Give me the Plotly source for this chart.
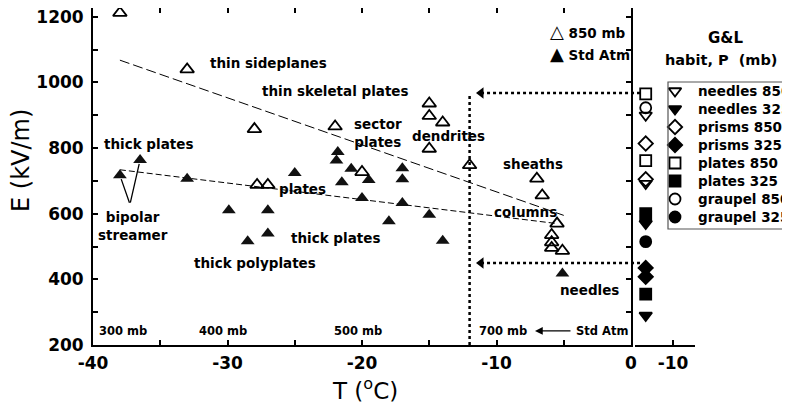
import plotly.graph_objects as go

# figure size (the page adds an 8 px body margin on the top and left)
W, H = 782, 397
OX, OY = 8, 8

# ---------------- data ----------------
# 850 mb runs (open triangles)
t850 = [-38.0, -33.0, -28.0, -22.0, -27.8, -27.0, -20.0, -15.0, -15.0, -14.0, -15.0, -12.0,
        -7.0, -6.6, -5.5, -5.9, -5.9, -5.9, -5.1]
e850 = [1212, 1040, 858, 866, 688, 688, 727, 936, 898, 878, 798, 748,
        707, 656, 570, 535, 513, 496, 487]

# Standard atmosphere runs (filled triangles)
tstd = [-38.0, -36.5, -33.0, -29.9, -27.0, -27.0, -28.5, -25.0, -21.8, -21.9, -20.8, -21.5,
        -19.5, -20.0, -17.0, -17.0, -17.0, -18.0, -15.0, -14.0, -5.1]
estd = [717, 764, 707, 611, 611, 540, 516, 724, 788, 762, 737, 696,
        703, 648, 739, 705, 633, 577, 597, 518, 418]

# dashed fits
fit850_t = [-38.0, -5.0]
fit850_e = [1068, 595]
fitstd_t = [-38.0, -5.5]
fitstd_e = [734, 570]

# G&L habits (right panel)
gl_labels = ["needles 850", "needles 325", "prisms 850", "prisms 325",
             "plates 850", "plates 325", "graupel 850", "graupel 325"]
gl_symbols = ["triangle-down-open", "triangle-down", "diamond-open", "diamond",
              "square-open", "square", "circle-open", "circle"]
gl_values = [[900, 692], [570, 290], [814, 705], [435, 408],
             [965, 762], [600, 355], [923], [515]]
gl_x = -3.5

# threshold guides
thresh_t = -12.0
upper_e = 968
lower_e = 450
arrow_head_t = -11.15

# habit labels: (text, T, E, anchor)
habit_labels = [
    ("thin sideplanes", -31.45, 1060, "left"),
    ("thin skeletal plates", -27.58, 975, "left"),
    ("sector<br>plates", -18.8, 846, "center"),
    ("dendrites", -13.6, 838, "center"),
    ("sheaths", -7.29, 753, "center"),
    ("columns", -7.88, 604, "center"),
    ("needles", -3.05, 367, "center"),
    ("thick plates", -35.84, 814, "center"),
    ("bipolar<br>streamer", -37.0, 562, "center"),
    ("plates", -24.39, 674, "center"),
    ("thick plates", -22.0, 525, "center"),
    ("thick polyplates", -27.96, 449, "center"),
]

# pressure levels of the standard atmosphere
p_labels = ["300 mb", "400 mb", "500 mb", "700 mb"]
p_temps = [-37.8, -30.3, -20.3, -9.5]
p_e = 243

x_ticks = [-40, -35, -30, -25, -20, -15, -10, -5, 0]
x_ticktext = ["-40", "", "-30", "", "-20", "", "-10", "", "0"]
y_ticks = [200, 300, 400, 500, 600, 700, 800, 900, 1000, 1100, 1200]
y_ticktext = ["200", "", "400", "", "600", "", "800", "", "1000", "", "1200"]


# ---------------- layout geometry (screen pixels -> paper) ----------------
def px(x):
    return (x - OX) / W


def py(y):
    return 1 - (y - OY) / H


XD = [px(93), px(631)]
YD = [py(345), py(8)]
XR = [-40, 0]
YR = [200, 1227]
X2D = [px(635), px(695)]
X2R = [-0.95, -15.24]


def xpaper(t):
    return XD[0] + (t - XR[0]) / (XR[1] - XR[0]) * (XD[1] - XD[0])


LBL = dict(family="DejaVu Sans", size=13.5, color="black", weight="bold")
TICKF = dict(family="DejaVu Sans", size=17, color="black", weight="bold")

fig = go.Figure()

# fits
fig.add_trace(go.Scatter(x=fit850_t, y=fit850_e, mode="lines",
                         line=dict(color="black", width=1, dash="10px,4px"),
                         showlegend=False, hoverinfo="skip"))
fig.add_trace(go.Scatter(x=fitstd_t, y=fitstd_e, mode="lines",
                         line=dict(color="black", width=1, dash="6px,3px"),
                         showlegend=False, hoverinfo="skip"))

# points
fig.add_trace(go.Scatter(x=tstd, y=estd, mode="markers", name="Std Atm",
                         marker=dict(symbol="triangle-up", size=12, color="#111"),
                         showlegend=False, cliponaxis=False))
fig.add_trace(go.Scatter(x=t850, y=e850, mode="markers", name="850 mb",
                         marker=dict(symbol="triangle-up-open", size=12, color="black",
                                     line=dict(width=1.8, color="black")),
                         showlegend=False, cliponaxis=False))

# arrowheads of the dotted guides
fig.add_trace(go.Scatter(x=[arrow_head_t, arrow_head_t], y=[upper_e, lower_e], mode="markers",
                         marker=dict(symbol="triangle-left", size=10, color="black"),
                         showlegend=False, hoverinfo="skip"))

# right panel (G&L)
for lab, sym, vals in zip(gl_labels, gl_symbols, gl_values):
    fig.add_trace(go.Scatter(x=[gl_x] * len(vals), y=vals, mode="markers", name=lab,
                             xaxis="x2", yaxis="y2",
                             marker=dict(symbol=sym, size=11, color="black",
                                         line=dict(width=1.8, color="black")),
                             showlegend=False, cliponaxis=False))

# manual legend for G&L habits
idx = list(range(len(gl_labels)))
fig.add_trace(go.Scatter(x=[7] * len(idx), y=idx, mode="markers", xaxis="x3", yaxis="y3",
                         marker=dict(symbol=gl_symbols, size=11, color="black",
                                     line=dict(width=1.8, color="black")),
                         showlegend=False, hoverinfo="skip", cliponaxis=False))

annotations = []
for i, lab in enumerate(gl_labels):
    annotations.append(dict(x=28, y=i, xref="x3", yref="y3", text=lab, showarrow=False,
                            xanchor="left", yanchor="middle", font=LBL))
annotations.append(dict(x=px(725), y=py(38), xref="paper", yref="paper", text="G&amp;L",
                        showarrow=False, xanchor="center", yanchor="middle",
                        font=dict(family="DejaVu Sans", size=15, weight="bold", color="black")))
annotations.append(dict(x=px(721), y=py(60), xref="paper", yref="paper",
                        text="habit, P&nbsp;&nbsp;(mb)", showarrow=False,
                        xanchor="center", yanchor="middle",
                        font=dict(family="DejaVu Sans", size=14.5, weight="bold", color="black")))

for txt, t, e, anc in habit_labels:
    annotations.append(dict(x=t, y=e, xref="x", yref="y", text=txt, showarrow=False,
                            xanchor=anc, yanchor="middle", font=LBL, align="center"))

PF = dict(family="DejaVu Sans", size=11.5, weight="bold", color="black")
for txt, t in zip(p_labels, p_temps):
    annotations.append(dict(x=t, y=p_e, xref="x", yref="y", text=txt, showarrow=False,
                            xanchor="center", yanchor="middle", font=PF))
annotations.append(dict(x=-2.16, y=p_e, xref="x", yref="y", text="Std Atm", showarrow=False,
                        xanchor="center", yanchor="middle", font=PF))
annotations.append(dict(x=-7.14, y=p_e, xref="x", yref="y", text="", showarrow=True,
                        ax=37, ay=0, arrowhead=2, arrowsize=1.3, arrowwidth=1.2, arrowcolor="black"))

# bipolar streamer pointers
annotations.append(dict(x=tstd[0], y=estd[0], xref="x", yref="y", text="", showarrow=True,
                        axref="x", ayref="y", ax=-37.25, ay=629, arrowhead=0, arrowwidth=1.3,
                        standoff=4, arrowcolor="black"))
annotations.append(dict(x=tstd[1], y=estd[1], xref="x", yref="y", text="", showarrow=True,
                        axref="x", ayref="y", ax=-37.25, ay=629, arrowhead=0, arrowwidth=1.3,
                        standoff=4, arrowcolor="black"))

# key for triangles
annotations.append(dict(x=px(548), y=py(31), xref="paper", yref="paper",
                        text='<span style="font-size:18px">\u25b3</span> 850 mb',
                        showarrow=False, xanchor="left", yanchor="middle", font=LBL))
annotations.append(dict(x=px(548), y=py(54), xref="paper", yref="paper",
                        text='<span style="font-size:18px">\u25b2</span> Std Atm',
                        showarrow=False, xanchor="left", yanchor="middle", font=LBL))

# axis titles
annotations.append(dict(x=px(21), y=py(161), xref="paper", yref="paper", text="E (kV/m)",
                        textangle=-90, showarrow=False, xanchor="center", yanchor="middle",
                        font=dict(family="DejaVu Sans", size=24, color="black")))
annotations.append(dict(x=px(365), y=py(389), xref="paper", yref="paper", text="T (<sup>o</sup>C)",
                        showarrow=False, xanchor="center", yanchor="middle",
                        font=dict(family="DejaVu Sans", size=23, color="black")))

DOT = dict(color="black", width=2.5, dash="3px,3px")
shapes = [
    dict(type="line", xref="x", yref="y", x0=thresh_t, x1=thresh_t, y0=YR[0], y1=upper_e, line=DOT),
    dict(type="line", xref="paper", yref="y", x0=xpaper(arrow_head_t), x1=px(643),
         y0=upper_e, y1=upper_e, line=DOT),
    dict(type="line", xref="paper", yref="y", x0=xpaper(arrow_head_t), x1=px(643),
         y0=lower_e, y1=lower_e, line=DOT),
    dict(type="rect", xref="paper", yref="paper", x0=px(668), x1=1.05, y0=py(229), y1=py(82),
         line=dict(color="#555", width=1.2)),
]

AX = dict(ticks="inside", ticklen=5, tickwidth=1.5, tickcolor="black",
          showline=True, linewidth=1.8, linecolor="black", ticklabeloverflow="allow",
          showgrid=False, zeroline=False, tickfont=TICKF, automargin=False)

fig.update_layout(
    width=W, height=H, margin=dict(l=0, r=0, t=0, b=0, autoexpand=False),
    paper_bgcolor="white", plot_bgcolor="white",
    showlegend=False,
    annotations=annotations, shapes=shapes,
    xaxis=dict(domain=XD, range=XR, tickvals=x_ticks, ticktext=x_ticktext,
               mirror="allticks", ticklabelstandoff=2, **AX),
    yaxis=dict(domain=YD, range=YR, tickvals=y_ticks, ticktext=y_ticktext,
               mirror="allticks", ticklabelstandoff=4, **AX),
    xaxis2=dict(domain=X2D, range=X2R, anchor="y2", tickvals=[-10], ticktext=["-10"],
                ticklabelstandoff=2, **AX),
    yaxis2=dict(domain=YD, range=YR, anchor="x2", visible=False, automargin=False),
    xaxis3=dict(domain=[px(668), 1.0], range=[0, 122], visible=False, fixedrange=True, automargin=False),
    yaxis3=dict(domain=[py(229), py(82)], range=[7.667, -0.5], visible=False,
                anchor="x3", fixedrange=True, automargin=False),
)

fig.write_html("out.html")
